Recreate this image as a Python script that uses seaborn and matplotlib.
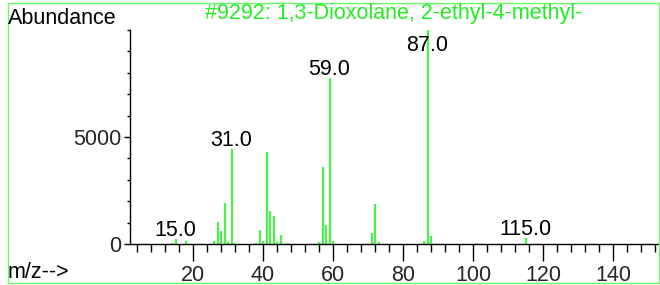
import numpy as np
import pandas as pd
import seaborn as sns
import matplotlib.pyplot as plt
from matplotlib.patches import Rectangle
from matplotlib.ticker import MultipleLocator, FixedLocator

# spectrum
mz = [14, 15, 18, 26, 27, 28, 29, 30, 31, 32, 38, 39, 40, 41, 42, 43, 44, 45, 47,
      56, 57, 58, 59, 60, 71, 72, 73, 86, 87, 88, 101, 115]
abundance = [30, 250, 150, 150, 1040, 610, 1930, 110, 4440, 50, 30, 640, 140, 4300, 1560, 1300, 100, 430, 50,
             100, 3610, 890, 7760, 150, 530, 1870, 100, 150, 9999, 360, 30, 300]
labeled = [15, 31, 59, 87, 115]
title = "#9292: 1,3-Dioxolane, 2-ethyl-4-methyl-"

sns.set_theme(style="white")
plt.rcParams['font.family'] = ['Liberation Sans', 'DejaVu Sans']
fs = 15.5

fig = plt.figure(figsize=(6.6, 2.85), dpi=100)
ax = fig.add_axes([130/660, 41/285, 530/660, 214/285])

df = pd.DataFrame({'mz': mz, 'ab': abundance})
ax.vlines(df['mz'], 0, df['ab'], color='#4cf24c', lw=1.6)

ax.set_xlim(2, 153.4)
ax.set_ylim(0, 10000)
sns.despine(ax=ax)
for s in ['left', 'bottom']:
    ax.spines[s].set_color('black')
    ax.spines[s].set_linewidth(1)

ax.xaxis.set_major_locator(FixedLocator(range(20, 160, 20)))
ax.xaxis.set_minor_locator(MultipleLocator(4))
ax.yaxis.set_major_locator(FixedLocator([0, 5000]))
ax.yaxis.set_minor_locator(MultipleLocator(1000))
ax.tick_params(axis='x', which='major', length=12, width=1, color='black', pad=3,
               labelsize=fs, bottom=True)
ax.tick_params(axis='x', which='minor', length=6, width=1, color='black', bottom=True)
ax.tick_params(axis='y', which='major', length=4, width=1, color='black', pad=2,
               labelsize=fs, left=True)
ax.tick_params(axis='y', which='minor', length=2, width=1, color='black', left=True)
ax.set_xlabel('')
ax.set_ylabel('')

for m, a in zip(mz, abundance):
    if m in labeled:
        ax.text(m, min(a, 8900) + 140, f"{m:.1f}", ha='center', va='baseline',
                fontsize=fs, color='black')

fig.text(8/660, 1 - 18/285, 'Abundance', ha='left', va='center', fontsize=fs, color='black')
fig.text(394/660, 1 - 14/285, title, ha='center', va='center', fontsize=fs, color='#22ee22')
fig.text(8/660, 1 - 272/285, 'm/z-->', ha='left', va='center', fontsize=fs, color='black')

fig.add_artist(Rectangle((8/660, 2/285), 651/660, 280/285, transform=fig.transFigure,
                         fill=False, ec='#66ff66', lw=1))

fig.savefig('out.png', dpi=100)
